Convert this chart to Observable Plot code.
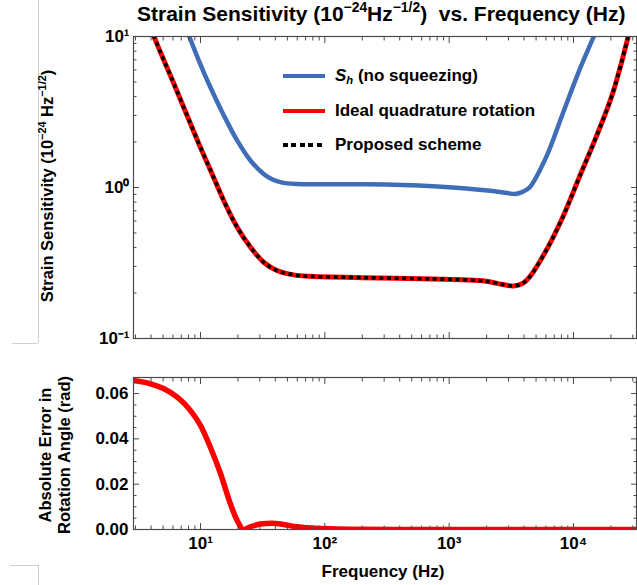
<!DOCTYPE html>
<html><head><meta charset="utf-8">
<script src="https://cdn.jsdelivr.net/npm/d3@7"></script>
<script src="https://cdn.jsdelivr.net/npm/@observablehq/plot@0.6"></script>
<style>
body{margin:0;background:#fff;}
#wrap{position:relative;width:637px;height:585px;overflow:hidden;font-family:"Liberation Sans",Arial,sans-serif;font-weight:bold;color:#000;background:#fff;}
.abs{position:absolute;white-space:nowrap;}
sup{font-size:0.66em;line-height:0;vertical-align:0.62em;}
sub{font-size:0.66em;line-height:0;vertical-align:-0.25em;}
.sw{position:absolute;left:283px;width:42px;}
</style></head><body>
<div id="wrap">
  <div class="abs" style="left:38px;top:0;width:0;height:343px;border-left:1px solid #d0d0d0;"></div>
  <div class="abs" style="left:12px;top:343px;width:26px;height:0;border-top:1px solid #d0d0d0;"></div>
  <div class="abs" style="left:10px;top:565px;width:28px;height:30px;border-top:1px solid #d0d0d0;border-right:1px solid #d0d0d0;"></div>
  <div id="top" class="abs" style="left:0;top:0;"></div>
  <div id="bot" class="abs" style="left:0;top:345px;"></div>
  <div class="abs" style="left:137px;top:2px;font-size:21px;">Strain Sensitivity (10<sup>−24</sup>Hz<sup>−1/2</sup>)&nbsp; vs. Frequency (Hz)</div>
  <div class="abs" style="left:47px;top:186px;font-size:16.5px;transform:translate(-50%,-50%) rotate(-90deg);">Strain Sensitivity (10<sup>−24</sup> Hz<sup>−1/2</sup>)</div>
  <div class="abs" style="left:55px;top:455px;font-size:16.5px;line-height:19px;text-align:center;transform:translate(-50%,-50%) rotate(-90deg);">Absolute Error in<br>Rotation Angle (rad)</div>
  <div class="abs" style="left:383px;top:572px;font-size:17px;transform:translate(-50%,-50%);">Frequency (Hz)</div>
  <div class="sw" style="top:74px;height:4px;background:#3F6DB8;"></div>
  <div class="sw" style="top:109px;height:4px;background:#FF0000;"></div>
  <div class="sw" style="top:143px;height:4px;width:40px;background:repeating-linear-gradient(90deg,#000 0 5px,transparent 5px 8.5px);"></div>
  <div class="abs" style="left:335px;top:76px;font-size:17px;transform:translateY(-50%);"><i>S</i><sub><i>h</i></sub> (no squeezing)</div>
  <div class="abs" style="left:335px;top:111px;font-size:17px;transform:translateY(-50%);">Ideal quadrature rotation</div>
  <div class="abs" style="left:335px;top:145px;font-size:17px;transform:translateY(-50%);">Proposed scheme</div>
</div>
<script>
// ---- data ----
const blueFreq  = [8.05, 9.69, 12.0, 15.4, 19.7, 25.2, 32.2, 38, 43.9, 50, 59.6, 76, 217, 743, 1377, 2545, 3000, 3400, 3900, 4430, 6030, 8190, 11140, 14720];
const blueSens  = [10.2, 6.93, 4.61, 3.00, 2.05, 1.51, 1.23, 1.13, 1.085, 1.065, 1.055, 1.05, 1.05, 1.02, 0.985, 0.935, 0.915, 0.905, 0.935, 1.00, 1.59, 3.08, 5.96, 10.2];
const redFreq   = [4.18, 5.08, 6.11, 7.59, 9.69, 12.4, 15.8, 19.7, 25.2, 32.2, 41.2, 56, 76, 200, 738, 1758, 2200, 2700, 3300, 3900, 4430, 6030, 8190, 11140, 15170, 20620, 27800];
const redSens   = [10.2, 6.93, 4.86, 3.16, 1.95, 1.23, 0.78, 0.546, 0.403, 0.32, 0.282, 0.264, 0.258, 0.253, 0.248, 0.242, 0.236, 0.228, 0.223, 0.232, 0.255, 0.383, 0.636, 1.17, 2.15, 4.18, 10.3];
const propFreq  = [4.18, 5.08, 6.11, 7.59, 9.69, 12.4, 15.8, 19.7, 25.2, 32.2, 41.2, 56, 76, 200, 738, 1758, 2200, 2700, 3300, 3900, 4430, 6030, 8190, 11140, 15170, 20620, 27800];
const propSens  = [10.2, 6.93, 4.86, 3.16, 1.95, 1.23, 0.78, 0.546, 0.403, 0.32, 0.282, 0.264, 0.258, 0.253, 0.248, 0.242, 0.236, 0.228, 0.223, 0.232, 0.255, 0.383, 0.636, 1.17, 2.15, 4.18, 10.3];
const errFreq   = [2.83, 3.97, 5.08, 6.5, 8.31, 10, 12, 14.5, 17.4, 19.7, 22.3, 25.2, 30.3, 37.6, 46.6, 59.6, 81, 110, 200, 1000, 10000, 33000];
const errVal    = [0.0658, 0.0643, 0.0621, 0.0584, 0.0525, 0.0459, 0.0363, 0.0246, 0.0113, 0.0040, 0.0, 0.0012, 0.0024, 0.0028, 0.0022, 0.0012, 0.0006, 0.0003, 0.0001, 0, 0, 0];
const xDomain   = [2.89, 32130];
const xMajor    = [10, 100, 1000, 10000];
const xLabels   = ["10¹", "10²", "10³", "10⁴"];
const sensMajor = [0.1, 1, 10];
const sensLabels= ["10⁻¹", "10⁰", "10¹"];
const sensDomain= [0.1, 10];
const errMajor  = [0, 0.02, 0.04, 0.06];
const errDomain = [0, 0.0671];

// ---- helpers ----
const zip = (xs, ys) => xs.map((x, i) => ({f: x, v: ys[i]}));
const logMinor = (lo, hi) => { const out = []; for (let e = -2; e <= 5; e++) for (let m = 2; m <= 9; m++) { const t = m * Math.pow(10, e); if (t > lo && t < hi) out.push(t); } return out; };
const labelOf = (values, labels) => d => { const i = values.findIndex(v => Math.abs(v - d) < 1e-9 * Math.max(1, v)); return i < 0 ? "" : labels[i]; };
const FRAME = "#4a4a4a";
const MAJ = 6, MIN = 3.5;
function ticksX(major, minor) {
  const o = {label: null, fill: "none", stroke: FRAME};
  return [
    Plot.axisX(major, {...o, anchor: "bottom", tickSize: MAJ, dy: -MAJ}),
    Plot.axisX(minor, {...o, anchor: "bottom", tickSize: MIN, dy: -MIN}),
    Plot.axisX(major, {...o, anchor: "top", tickSize: MAJ, dy: MAJ}),
    Plot.axisX(minor, {...o, anchor: "top", tickSize: MIN, dy: MIN})
  ];
}
function ticksY(major, minor) {
  const o = {label: null, fill: "none", stroke: FRAME};
  return [
    Plot.axisY(major, {...o, anchor: "left", tickSize: MAJ, dx: MAJ}),
    Plot.axisY(minor, {...o, anchor: "left", tickSize: MIN, dx: MIN}),
    Plot.axisY(major, {...o, anchor: "right", tickSize: MAJ, dx: -MAJ}),
    Plot.axisY(minor, {...o, anchor: "right", tickSize: MIN, dx: -MIN})
  ];
}
const style = {fontFamily: '"Liberation Sans", Arial, sans-serif', fontWeight: "bold", fontSize: "17px", color: "#000", background: "transparent", overflow: "visible"};
const xMinor = logMinor(xDomain[0], xDomain[1]);

const topPlot = Plot.plot({
  width: 637, height: 345, marginTop: 36, marginBottom: 7, marginLeft: 133, marginRight: 1,
  style,
  x: {type: "log", domain: xDomain},
  y: {type: "log", domain: sensDomain},
  marks: [
    Plot.line(zip(blueFreq, blueSens), {x: "f", y: "v", stroke: "#3F6DB8", strokeWidth: 4.5, curve: "catmull-rom", clip: true}),
    Plot.line(zip(redFreq, redSens), {x: "f", y: "v", stroke: "#FF0000", strokeWidth: 5, curve: "catmull-rom", clip: true}),
    Plot.line(zip(propFreq, propSens), {x: "f", y: "v", stroke: "#000", strokeWidth: 3.6, strokeDasharray: "4,3.6", strokeLinecap: "butt", curve: "catmull-rom", clip: true}),
    Plot.frame({stroke: FRAME, strokeWidth: 1.2}),
    ...ticksX(xMajor, xMinor),
    ...ticksY(sensMajor, logMinor(sensDomain[0], sensDomain[1])),
    Plot.axisY(sensMajor, {anchor: "left", tickSize: 0, tickPadding: 4, label: null, tickFormat: labelOf(sensMajor, sensLabels)})
  ]
});
document.getElementById("top").appendChild(topPlot);

const errMinor = d3.range(0.005, errDomain[1], 0.005).filter(t => Math.abs(t / 0.02 - Math.round(t / 0.02)) > 1e-6);
const botPlot = Plot.plot({
  width: 637, height: 240, marginTop: 32, marginBottom: 56, marginLeft: 133, marginRight: 1,
  style,
  x: {type: "log", domain: xDomain},
  y: {domain: errDomain},
  marks: [
    Plot.line(zip(errFreq, errVal), {x: "f", y: "v", stroke: "#FF0000", strokeWidth: 5.5, curve: "monotone-x", clip: true}),
    Plot.frame({stroke: FRAME, strokeWidth: 1.2}),
    ...ticksX(xMajor, xMinor),
    ...ticksY(errMajor, errMinor),
    Plot.axisY(errMajor, {anchor: "left", tickSize: 0, tickPadding: 5, label: null, tickFormat: d => d.toFixed(2)}),
    Plot.axisX(xMajor, {anchor: "bottom", tickSize: 0, tickPadding: 7, label: null, fontSize: 17, tickFormat: labelOf(xMajor, xLabels)})
  ]
});
document.getElementById("bot").appendChild(botPlot);
</script>
</body></html>
